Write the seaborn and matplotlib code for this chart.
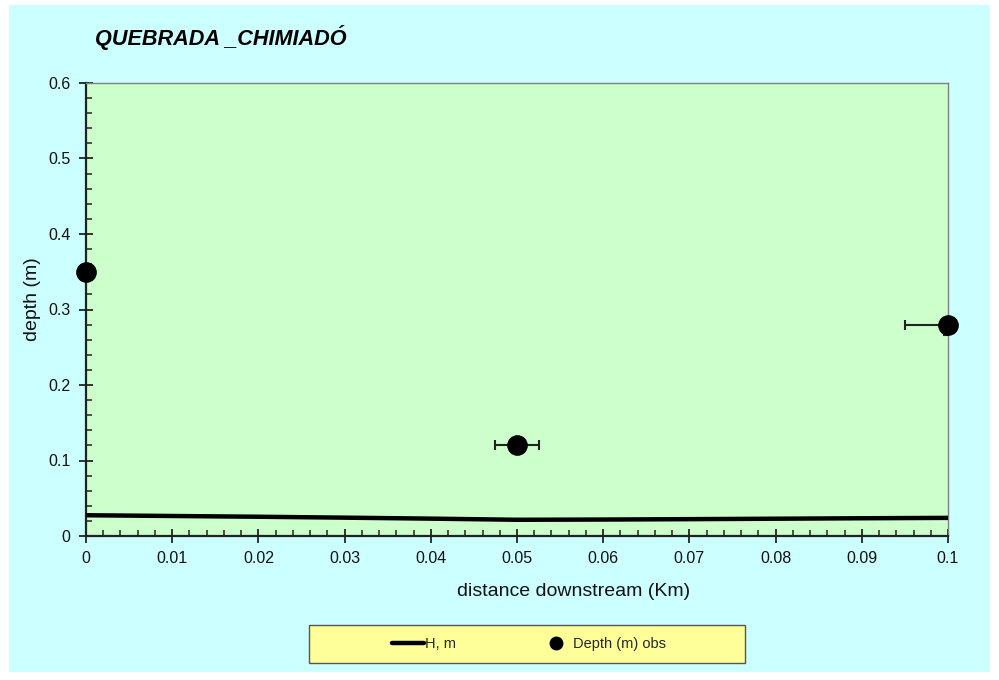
import matplotlib
matplotlib.use("Agg")
import matplotlib.pyplot as plt
from matplotlib.patches import Rectangle
from matplotlib.lines import Line2D
from matplotlib.ticker import MultipleLocator
import seaborn as sns
import pandas as pd

sns.set_theme(style="white")
plt.rcParams["font.family"] = ["Liberation Sans", "DejaVu Sans"]

# Simulated water depth along the reach
dist_km = [0.0, 0.01, 0.02, 0.03, 0.04, 0.05, 0.06, 0.07, 0.08, 0.09, 0.1]
h_m = [0.0275, 0.0265, 0.0255, 0.0243, 0.0230, 0.0215, 0.0218, 0.0223, 0.0229, 0.0235, 0.0240]

# Observed depths with measurement spread
obs_km = [0.0, 0.05, 0.1]
obs_depth = [0.35, 0.12, 0.28]
obs_xerr_lo = [0.0, 0.0025, 0.005]
obs_xerr_hi = [0.0, 0.0025, 0.005]
obs_yerr_lo = [0.0, 0.0, 0.014]
obs_yerr_hi = [0.0, 0.0, 0.0]

sim = pd.DataFrame({"dist": dist_km, "H": h_m})
obs = pd.DataFrame({"dist": obs_km, "depth": obs_depth})

fig = plt.figure(figsize=(9.99, 6.8), dpi=100, facecolor="white")
fig.patches.append(Rectangle((9 / 999, 1 - 672 / 680), 981 / 999, 667 / 680,
                             transform=fig.transFigure, facecolor="#CCFFFF",
                             edgecolor="none", zorder=-10))

ax = fig.add_axes([86 / 999, 1 - 536 / 680, 862 / 999, 453 / 680])
ax.set_facecolor("#CCFFCC")

ax.errorbar(obs["dist"], obs["depth"],
            xerr=[obs_xerr_lo, obs_xerr_hi], yerr=[obs_yerr_lo, obs_yerr_hi],
            fmt="none", ecolor="#222222", elinewidth=1.5, capsize=3.5,
            capthick=1.5, zorder=3)
sns.lineplot(data=sim, x="dist", y="H", ax=ax, color="black", linewidth=3.2,
             zorder=4, legend=False)
sns.scatterplot(data=obs, x="dist", y="depth", ax=ax, color="black", s=190,
                edgecolor="black", zorder=5, legend=False, clip_on=False)

ax.set_xlim(0, 0.1)
ax.set_ylim(0, 0.6)
ax.xaxis.set_major_locator(MultipleLocator(0.01))
ax.xaxis.set_minor_locator(MultipleLocator(0.002))
ax.yaxis.set_major_locator(MultipleLocator(0.1))
ax.yaxis.set_minor_locator(MultipleLocator(0.02))
ax.xaxis.set_major_formatter(plt.FuncFormatter(lambda v, p: f"{v:g}"))
ax.yaxis.set_major_formatter(plt.FuncFormatter(lambda v, p: f"{v:g}"))

ax.tick_params(axis="both", which="major", direction="inout", length=10,
               width=1.3, color="#222222", labelsize=11.5, labelcolor="#111111",
               pad=6, bottom=True, left=True)
ax.tick_params(axis="both", which="minor", direction="in", length=4,
               width=1.1, color="#222222", bottom=True, left=True)

for side in ["left", "bottom"]:
    ax.spines[side].set_color("#222222")
    ax.spines[side].set_linewidth(1.6)
for side in ["top", "right"]:
    ax.spines[side].set_color("#808080")
    ax.spines[side].set_linewidth(1.0)

ax.set_xlabel("distance downstream (Km)", fontsize=14, color="#111111", labelpad=12)
ax.set_ylabel("depth (m)", fontsize=14, color="#111111", labelpad=5)
ax.xaxis.label.set_x(0.566)
ax.yaxis.label.set_y(0.523)

fig.text(95 / 999, 1 - 37 / 680, "QUEBRADA _CHIMIADÓ", fontsize=15.6,
         fontweight="bold", fontstyle="italic", va="center", ha="left",
         color="black")

# Legend panel
fig.patches.append(Rectangle((309 / 999, 1 - 663 / 680), 436 / 999, 38 / 680,
                             transform=fig.transFigure, facecolor="#FFFF99",
                             edgecolor="#555555", linewidth=1.0, zorder=1))
handles = [Line2D([0], [0], color="black", linewidth=3.2),
           Line2D([0], [0], color="black", marker="o", linestyle="none",
                  markersize=9)]
leg = fig.legend(handles, ["H, m", "Depth (m) obs"], ncol=2,
                 loc="center", bbox_to_anchor=(529 / 999, 1 - 644 / 680),
                 frameon=False, fontsize=10.5, handlelength=2.2,
                 handletextpad=0.1, columnspacing=5.7)

fig.savefig("out.png", dpi=100, facecolor="white")
